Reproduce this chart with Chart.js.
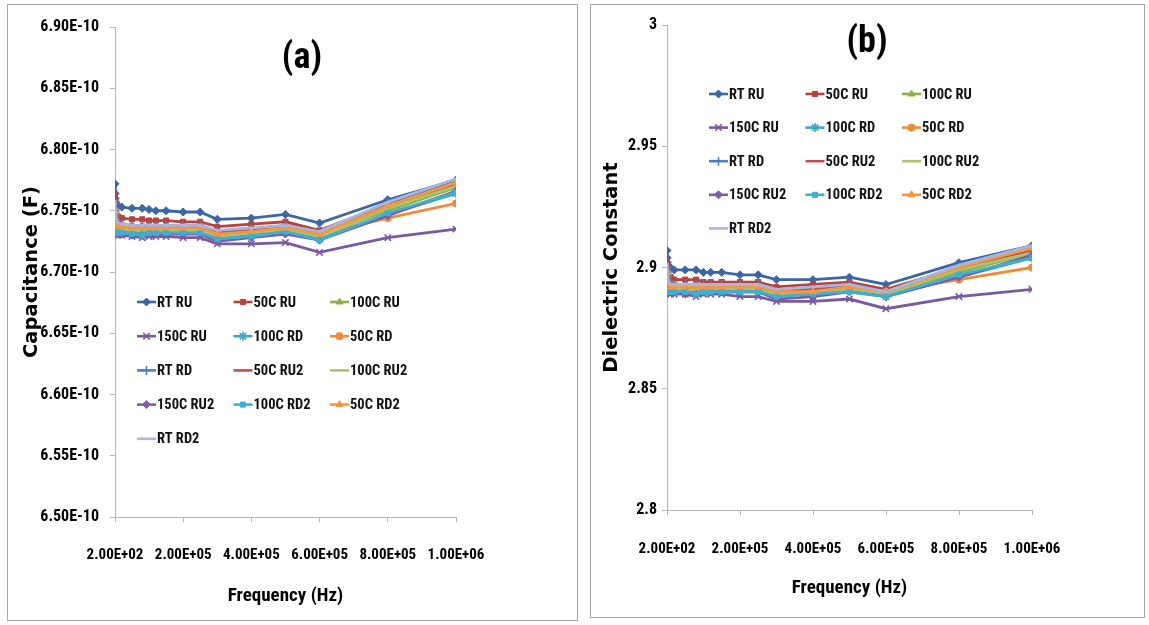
<!DOCTYPE html>
<html>
<head>
<meta charset="utf-8">
<script src="https://cdn.jsdelivr.net/npm/chart.js@4/dist/chart.umd.min.js"></script>
<style>
  body{ margin:0; background:#fff; width:1149px; height:625px; position:relative; overflow:hidden; }
  .frame{ position:absolute; border:1px solid #a6a6a6; box-sizing:border-box; }
  #fa{ left:7px; top:4px; width:571px; height:617px; }
  #fb{ left:590px; top:4px; width:555px; height:614px; }
  canvas{ position:absolute; top:0; }
  #ca{ left:0; }
  #cb{ left:580px; }
</style>
</head>
<body>
<div class="frame" id="fa"></div>
<div class="frame" id="fb"></div>
<canvas id="ca" width="580" height="625"></canvas>
<canvas id="cb" width="569" height="625"></canvas>
<script>
/* ===== Data ===== */
const FREQ = [200, 500, 1000, 2000, 5000, 10000, 20000, 50000, 80000, 100000, 120000, 150000,
              200000, 250000, 300000, 400000, 500000, 600000, 800000, 1000000];
const NAMES = ['RT RU','50C RU','100C RU','150C RU','100C RD','50C RD','RT RD',
               '50C RU2','100C RU2','150C RU2','100C RD2','50C RD2','RT RD2'];

// (a) capacitance, in units of 1E-10 F
const capRTRU   = [6.772,6.764,6.760,6.757,6.755,6.754,6.753,6.752,6.752,6.751,6.750,6.750,6.749,6.749,6.743,6.744,6.747,6.740,6.759,6.775];
const cap50RU   = [6.763,6.756,6.752,6.749,6.746,6.745,6.744,6.743,6.743,6.742,6.742,6.742,6.741,6.741,6.737,6.739,6.741,6.734,6.755,6.772];
const cap100RU  = [6.752,6.746,6.743,6.740,6.739,6.738,6.737,6.736,6.736,6.736,6.736,6.736,6.735,6.735,6.731,6.733,6.736,6.730,6.750,6.769];
const cap150RU  = [6.745,6.738,6.734,6.732,6.731,6.730,6.730,6.729,6.728,6.729,6.729,6.729,6.728,6.728,6.723,6.723,6.724,6.716,6.728,6.735];
const cap100RD  = [6.748,6.742,6.739,6.737,6.735,6.734,6.734,6.733,6.731,6.733,6.733,6.733,6.733,6.733,6.729,6.731,6.734,6.727,6.747,6.764];
const cap50RD   = [6.750,6.745,6.742,6.740,6.739,6.738,6.738,6.737,6.737,6.737,6.737,6.737,6.737,6.737,6.732,6.734,6.737,6.731,6.744,6.756];
const capRTRD   = [6.756,6.750,6.746,6.743,6.741,6.740,6.739,6.738,6.738,6.738,6.738,6.738,6.738,6.738,6.733,6.735,6.738,6.732,6.756,6.774];
const cap50RU2  = [6.755,6.748,6.745,6.742,6.740,6.739,6.738,6.737,6.737,6.737,6.737,6.737,6.737,6.737,6.732,6.734,6.737,6.731,6.754,6.772];
const cap100RU2 = [6.749,6.743,6.740,6.738,6.736,6.735,6.735,6.734,6.734,6.734,6.734,6.734,6.734,6.734,6.729,6.732,6.735,6.729,6.752,6.770];
const cap150RU2 = [6.744,6.738,6.735,6.733,6.732,6.731,6.731,6.730,6.730,6.731,6.731,6.731,6.731,6.731,6.725,6.728,6.731,6.726,6.746,6.766];
const cap100RD2 = [6.746,6.740,6.737,6.735,6.733,6.732,6.732,6.731,6.730,6.732,6.732,6.732,6.732,6.732,6.727,6.729,6.733,6.726,6.748,6.765];
const cap50RD2  = [6.750,6.744,6.741,6.739,6.738,6.737,6.737,6.736,6.736,6.736,6.736,6.736,6.736,6.736,6.731,6.733,6.736,6.731,6.754,6.773];
const capRTRD2  = [6.759,6.752,6.747,6.744,6.742,6.740,6.739,6.738,6.738,6.738,6.738,6.738,6.738,6.738,6.734,6.736,6.738,6.733,6.757,6.776];

// (b) dielectric constant
const dkRTRU   = [2.907,2.904,2.902,2.901,2.900,2.900,2.899,2.899,2.899,2.898,2.898,2.898,2.897,2.897,2.895,2.895,2.896,2.893,2.902,2.909];
const dk50RU   = [2.903,2.900,2.899,2.897,2.896,2.896,2.895,2.895,2.895,2.894,2.894,2.894,2.894,2.894,2.892,2.893,2.894,2.891,2.900,2.907];
const dk100RU  = [2.899,2.896,2.895,2.893,2.893,2.893,2.892,2.892,2.892,2.892,2.892,2.892,2.891,2.891,2.890,2.890,2.892,2.889,2.898,2.906];
const dk150RU  = [2.896,2.893,2.891,2.890,2.890,2.889,2.889,2.889,2.888,2.889,2.889,2.889,2.888,2.888,2.886,2.886,2.887,2.883,2.888,2.891];
const dk100RD  = [2.897,2.894,2.893,2.892,2.891,2.891,2.891,2.890,2.890,2.890,2.890,2.890,2.890,2.890,2.889,2.890,2.891,2.888,2.896,2.904];
const dk50RD   = [2.898,2.896,2.894,2.893,2.893,2.893,2.893,2.892,2.892,2.892,2.892,2.892,2.892,2.892,2.890,2.891,2.892,2.890,2.895,2.900];
const dkRTRD   = [2.900,2.898,2.896,2.895,2.894,2.893,2.893,2.893,2.893,2.893,2.893,2.893,2.893,2.893,2.890,2.891,2.893,2.890,2.900,2.908];
const dk50RU2  = [2.900,2.897,2.896,2.894,2.893,2.893,2.893,2.892,2.892,2.892,2.892,2.892,2.892,2.892,2.890,2.891,2.892,2.890,2.900,2.907];
const dk100RU2 = [2.897,2.895,2.893,2.893,2.892,2.891,2.891,2.891,2.891,2.891,2.891,2.891,2.891,2.891,2.889,2.890,2.891,2.889,2.899,2.906];
const dk150RU2 = [2.895,2.893,2.891,2.890,2.890,2.890,2.890,2.889,2.889,2.890,2.890,2.890,2.890,2.890,2.887,2.888,2.890,2.888,2.896,2.905];
const dk100RD2 = [2.896,2.893,2.892,2.891,2.890,2.890,2.890,2.890,2.889,2.890,2.890,2.890,2.890,2.890,2.888,2.889,2.890,2.888,2.897,2.904];
const dk50RD2  = [2.898,2.895,2.894,2.893,2.893,2.892,2.892,2.892,2.892,2.892,2.892,2.892,2.892,2.892,2.890,2.890,2.892,2.890,2.900,2.908];
const dkRTRD2  = [2.902,2.899,2.896,2.895,2.894,2.893,2.893,2.893,2.893,2.893,2.893,2.893,2.893,2.893,2.891,2.892,2.893,2.890,2.901,2.909];

// axis ticks
const X_TICKS   = [200, 200200, 400200, 600200, 800200, 1000200];
const Y_TICKS_A = [6.50, 6.55, 6.60, 6.65, 6.70, 6.75, 6.80, 6.85, 6.90];
const Y_TICKS_B = [2.80, 2.85, 2.90, 2.95, 3.00];

/* ===== Series look (Excel-ish) ===== */
const STYLE = [
  { color:'#3B67A6', point:'rectRot',  r:4,   pw:1 },
  { color:'#B8423E', point:'rect',     r:3.6, pw:1 },
  { color:'#8EB04A', point:'triangle', r:4,   pw:1 },
  { color:'#7A5A9E', point:'crossRot', r:4.5, pw:1.6 },
  { color:'#3FA5C0', point:'star',     r:4.5, pw:1.6 },
  { color:'#EF8B3B', point:'circle',   r:3.6, pw:1 },
  { color:'#4D7FC2', point:'cross',    r:4.5, pw:1.6 },
  { color:'#C0504D', point:null },
  { color:'#A9C46C', point:null },
  { color:'#7E5CA8', point:'rectRot',  r:4,   pw:1 },
  { color:'#3CB0D2', point:'rect',     r:3.6, pw:1 },
  { color:'#F7963F', point:'triangle', r:4,   pw:1 },
  { color:'#A7B5DF', point:null }
];

/* ===== Fonts: use a condensed face if one is installed ===== */
function hasFont(name){
  const c = document.createElement('canvas').getContext('2d');
  const probe = '2.00E+05 Frequency (Hz) RT RU';
  c.font = 'bold 20px monospace';
  const w0 = c.measureText(probe).width;
  c.font = `bold 20px "${name}", monospace`;
  return Math.abs(c.measureText(probe).width - w0) > 0.5;
}
const NARROW_FACE = ['Roboto Condensed', 'DejaVu Sans Condensed', 'Liberation Sans Narrow', 'Arial Narrow', 'Open Sans Condensed']
  .find(hasFont);
const FONT_NARROW = NARROW_FACE ? `"${NARROW_FACE}", "Liberation Sans", sans-serif` : '"Liberation Sans", Arial, sans-serif';
const TIGHT = NARROW_FACE ? '0px' : '-1px';     // squeeze plain Arial-like text when no condensed face
const FONT_WIDE = '"DejaVu Sans", Verdana, sans-serif';

// y-axis titles are set in a wide bold face; size it so "Dielectric Constant" runs ~210 px
function fitSize(text, family, target){
  const c = document.createElement('canvas').getContext('2d');
  c.font = `bold 20px ${family}`;
  return Math.round(20 * target / c.measureText(text).width * 2) / 2;
}
const Y_TITLE_SIZE = Math.min(20, fitSize('Dielectric Constant', FONT_WIDE, 210));

/* ===== Helpers ===== */
function fmtExp(v){
  const [m, e] = Number(v).toExponential(2).split('e');
  const n = +e;
  return m + 'E' + (n < 0 ? '-' : '+') + String(Math.abs(n)).padStart(2, '0');
}

function buildDatasets(rows){
  return rows.map((vals, i) => {
    const s = STYLE[i];
    return {
      label: NAMES[i],
      data: FREQ.map((f, k) => ({ x: f, y: vals[k] })),
      borderColor: s.color,
      backgroundColor: s.color,
      borderWidth: 2.8,
      pointStyle: s.point || false,
      pointRadius: s.point ? s.r : 0,
      pointBorderWidth: s.pw || 1,
      tension: 0,
      order: -i          // later series drawn on top, like Excel
    };
  });
}

/* ===== Legend grid + panel caption ===== */
const panelDeco = {
  id: 'panelDeco',
  beforeDraw(chart){ chart.ctx.letterSpacing = TIGHT; },
  afterDraw(chart, args, o){
    const ctx = chart.ctx;
    ctx.save();
    chart.data.datasets.forEach((ds, i) => {
      const x = o.x + (i % 3) * o.colW;
      const y = o.y + Math.floor(i / 3) * o.rowH;
      ctx.strokeStyle = ds.borderColor;
      ctx.fillStyle = ds.backgroundColor;
      ctx.lineWidth = 2.6;
      ctx.beginPath(); ctx.moveTo(x, y); ctx.lineTo(x + 19, y); ctx.stroke();
      if (ds.pointStyle && Chart.helpers && Chart.helpers.drawPoint) {
        ctx.lineWidth = ds.pointBorderWidth;
        Chart.helpers.drawPoint(ctx, { pointStyle: ds.pointStyle, radius: ds.pointRadius, rotation: 0, borderWidth: ds.pointBorderWidth }, x + 9.5, y);
      }
      ctx.fillStyle = '#111';
      ctx.font = 'bold 14.5px ' + FONT_NARROW;
      ctx.textBaseline = 'middle';
      ctx.textAlign = 'left';
      ctx.fillText(ds.label, x + 20, y + 1);
    });
    ctx.font = 'bold 36px ' + FONT_NARROW;
    ctx.fillStyle = '#000';
    ctx.textAlign = 'center';
    ctx.textBaseline = 'middle';
    ctx.fillText(o.caption, o.capX, o.capY);
    ctx.restore();
    ctx.letterSpacing = '0px';
  }
};

/* ===== Charts ===== */
function makeChart(id, rows, cfg){
  const cv = document.getElementById(id);
  const W = cv.width, H = cv.height;
  return new Chart(cv.getContext('2d'), {
    type: 'line',
    data: { datasets: buildDatasets(rows) },
    plugins: [panelDeco],
    options: {
      responsive: false,
      animation: false,
      layout: { padding: { left: 0, top: cfg.top, right: W - cfg.right, bottom: 0 } },
      plugins: {
        legend: { display: false },
        tooltip: { enabled: false },
        panelDeco: cfg.deco
      },
      scales: {
        x: {
          type: 'linear',
          min: X_TICKS[0], max: X_TICKS[X_TICKS.length - 1],
          afterBuildTicks: s => { s.ticks = X_TICKS.map(v => ({ value: v })); },
          afterFit: s => { s.height = H - cfg.bottom; },
          ticks: { callback: v => fmtExp(v), color: '#000', padding: cfg.xTickPad, maxRotation: 0,
                   font: { family: FONT_NARROW, size: 15, weight: 'bold' } },
          grid: { drawOnChartArea: false, color: '#b5b5b5', tickLength: 5 },
          border: { color: '#b5b5b5' },
          title: { display: true, text: 'Frequency (Hz)', color: '#000',
                   padding: { top: 0, bottom: cfg.xTitlePad },
                   font: { family: FONT_NARROW, size: 19, weight: 'bold' } }
        },
        y: {
          type: 'linear',
          min: cfg.yTicks[0], max: cfg.yTicks[cfg.yTicks.length - 1],
          afterBuildTicks: s => { s.ticks = cfg.yTicks.map(v => ({ value: v })); },
          afterFit: s => { s.width = cfg.left; },
          ticks: { callback: cfg.yFmt, color: '#000', padding: cfg.yTickPad,
                   font: { family: FONT_NARROW, size: 16, weight: 'bold' } },
          grid: { drawOnChartArea: false, color: '#b5b5b5', tickLength: 5 },
          border: { color: '#b5b5b5' },
          title: { display: true, text: cfg.yTitle, color: '#000',
                   padding: { top: 32 - Y_TITLE_SIZE * 0.6, bottom: 0 },
                   font: { family: FONT_WIDE, size: Y_TITLE_SIZE, weight: 'bold' } }
        }
      }
    }
  });
}

makeChart('ca',
  [capRTRU, cap50RU, cap100RU, cap150RU, cap100RD, cap50RD, capRTRD,
   cap50RU2, cap100RU2, cap150RU2, cap100RD2, cap50RD2, capRTRD2],
  { left: 115, right: 456, top: 27, bottom: 517, xTickPad: 24, xTitlePad: 17, yTickPad: 11,
    yTicks: Y_TICKS_A, yFmt: v => Number(v).toFixed(2) + 'E-10', yTitle: 'Capacitance (F)',
    deco: { x: 137, y: 302, colW: 96.5, rowH: 34.2, caption: '(a)', capX: 302, capY: 59 } });

makeChart('cb',
  [dkRTRU, dk50RU, dk100RU, dk150RU, dk100RD, dk50RD, dkRTRD,
   dk50RU2, dk100RU2, dk150RU2, dk100RD2, dk50RD2, dkRTRD2],
  { left: 87, right: 452, top: 25, bottom: 510, xTickPad: 25, xTitlePad: 25, yTickPad: 5,
    yTicks: Y_TICKS_B, yFmt: v => String(+Number(v).toFixed(2)), yTitle: 'Dielectric Constant',
    deco: { x: 129, y: 94, colW: 96.5, rowH: 33.6, caption: '(b)', capX: 287, capY: 43 } });
</script>
</body>
</html>
